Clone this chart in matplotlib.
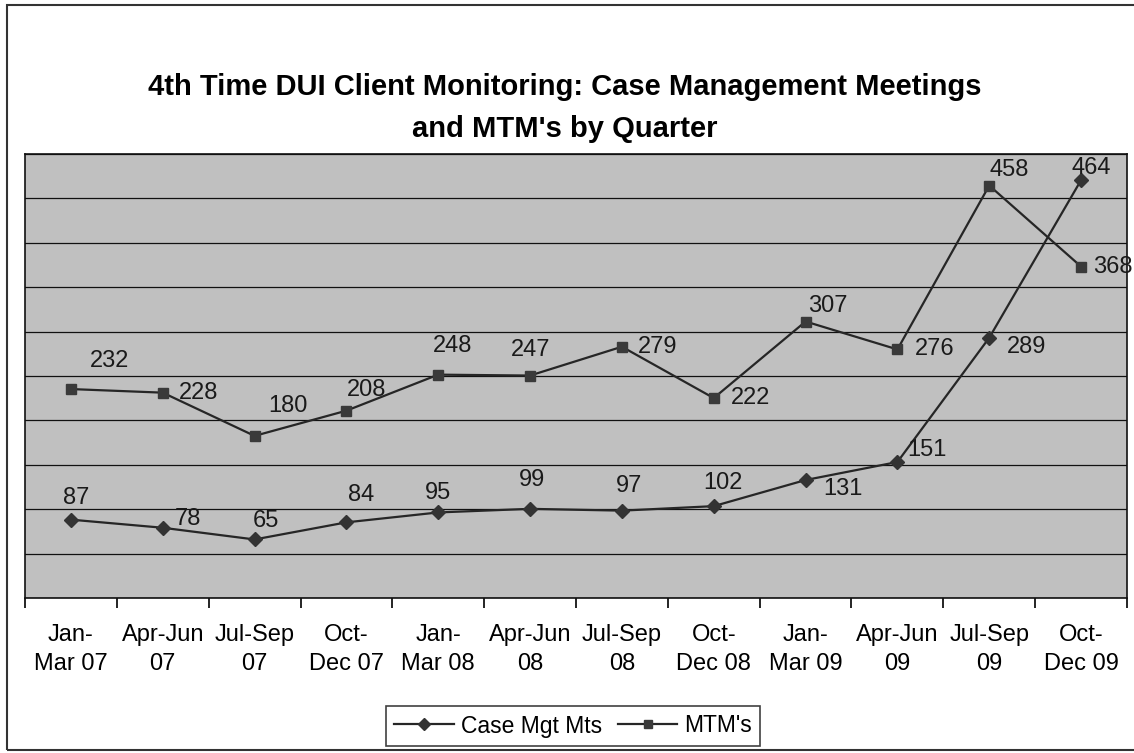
import matplotlib.pyplot as plt
import matplotlib.patches as mpatches
import numpy as np

plt.rcParams["font.family"] = ["Liberation Sans", "DejaVu Sans"]

# Quarter labels (two lines each, as in the original)
QUARTERS = ["Jan-\nMar 07", "Apr-Jun\n07", "Jul-Sep\n07", "Oct-\nDec 07",
            "Jan-\nMar 08", "Apr-Jun\n08", "Jul-Sep\n08", "Oct-\nDec 08",
            "Jan-\nMar 09", "Apr-Jun\n09", "Jul-Sep\n09", "Oct-\nDec 09"]

case_mgt = [87, 78, 65, 84, 95, 99, 97, 102, 131, 151, 289, 464]
mtm = [232, 228, 180, 208, 248, 247, 279, 222, 307, 276, 458, 368]

# label offsets in pixels (dx, dy) relative to each point
case_off = [(5, 22), (25, 9), (11, 18), (15, 27), (0, 19), (2, 29),
            (7, 25), (9, 23), (37, -9), (30, 12), (37, -9), (10, 12)]
mtm_off = [(39, 28), (36, 0), (33, 30), (20, 21), (14, 29), (1, 26),
           (36, 0), (37, 0), (22, 16), (37, 0), (20, 16), (32, 0)]

Y_TOP = 493
LINE_C = "#262626"

fig = plt.figure(figsize=(11.34, 7.53), dpi=100)
ax = fig.add_axes([25 / 1134, 1 - 598 / 753, (1127 - 25) / 1134, (598 - 154) / 753])
ax.set_facecolor("#c0c0c0")

x = np.arange(len(QUARTERS))
l1, = ax.plot(x, case_mgt, color=LINE_C, lw=1.6, marker="D", ms=7,
              mfc="#333333", mec="#333333", label="Case Mgt Mts", zorder=3)
l2, = ax.plot(x, mtm, color=LINE_C, lw=1.6, marker="s", ms=7,
              mfc="#3a3a3a", mec="#3a3a3a", label="MTM's", zorder=3)

for xi, v, (dx, dy) in zip(x, case_mgt, case_off):
    ax.annotate(str(v), (xi, v), xytext=(dx, dy), textcoords="offset pixels",
                ha="center", va="center", fontsize=17, color="#1a1a1a", annotation_clip=False)
for xi, v, (dx, dy) in zip(x, mtm, mtm_off):
    ax.annotate(str(v), (xi, v), xytext=(dx, dy), textcoords="offset pixels",
                ha="center", va="center", fontsize=17, color="#1a1a1a", annotation_clip=False)

ax.set_xlim(-0.5, len(QUARTERS) - 0.5)
ax.set_ylim(0, Y_TOP)
ax.set_yticks(np.linspace(0, Y_TOP, 11))
ax.yaxis.grid(True, color="#111111", lw=0.9)
ax.tick_params(axis="y", left=False, labelleft=False)

ax.set_xticks(x)
ax.set_xticklabels(QUARTERS, fontsize=17, linespacing=1.4)
ax.set_xticks(np.arange(-0.5, len(QUARTERS), 1), minor=True)
ax.tick_params(axis="x", which="major", length=0, pad=19)
ax.tick_params(axis="x", which="minor", length=7, width=1.2, direction="out")
for s in ax.spines.values():
    s.set_color("#111111")
    s.set_linewidth(1.2)

fig.text(0.498, 1 - 87 / 753, "4th Time DUI Client Monitoring: Case Management Meetings",
         ha="center", va="center", fontsize=21, fontweight="bold")
fig.text(0.498, 1 - 129 / 753, "and MTM's by Quarter",
         ha="center", va="center", fontsize=21, fontweight="bold")

leg = fig.legend(handles=[l1, l2], loc="center", bbox_to_anchor=(573 / 1134, 1 - 726 / 753),
                 ncol=2, fontsize=16.5, frameon=True, fancybox=False, edgecolor="#111111",
                 handlelength=2.6, handletextpad=0.3, columnspacing=0.7, borderpad=0.35,
                 markerscale=0.85)
leg.get_frame().set_linewidth(1.2)

# outer chart border (right edge is cut off in the original)
fig.patches.append(mpatches.Rectangle((7 / 1134, 3 / 753), 1.05, 1 - 8 / 753,
                                      transform=fig.transFigure, fill=False,
                                      edgecolor="#333333", lw=1.5))

fig.savefig("out.png", dpi=100)
